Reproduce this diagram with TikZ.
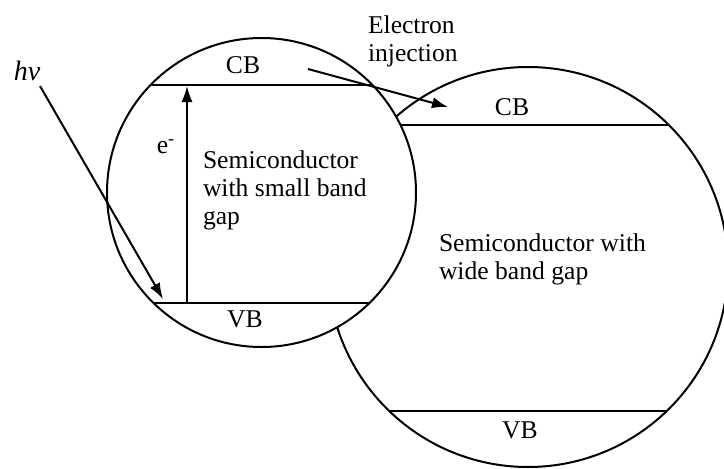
\documentclass[tikz,border=0pt]{standalone}
\usepackage{fontspec}
\setmainfont{Liberation Serif}
\usetikzlibrary{arrows.meta}
\begin{document}
\begin{tikzpicture}[x=0.5pt,y=-0.5pt, line width=1pt,
  lbl/.style={font=\fontsize{12.8}{14}\selectfont, inner sep=0pt},
  txt/.style={lbl, align=left, anchor=west},
  arr/.style={-{Latex[length=8pt,width=5.6pt]}, line width=1pt}]
\useasboundingbox (0,0) rectangle (724,468);
\coordinate (Lc) at (528,267);
\coordinate (Sc) at (261.5,192.5);
% large circle (wide band gap)
\draw (Lc) circle[radius=200];
\begin{scope}
  \clip (Lc) circle[radius=200];
  \draw (300,125) -- (740,125);
  \draw (300,411) -- (740,411);
\end{scope}
% small circle (small band gap), on top
\fill[white] (Sc) circle[radius=154.5];
\begin{scope}
  \clip (Sc) circle[radius=154.5];
  \draw (90,85) -- (430,85);
  \draw (90,303) -- (430,303);
\end{scope}
\draw (Sc) circle[radius=154.5];
% labels
\node[lbl] (cbS) at (243,65) {CB};
\node[lbl] (vbS) at (245,319) {VB};
\node[lbl] (cbL) at (512,107) {CB};
\node[lbl] (vbL) at (520,430) {VB};
\node[txt] (semS) at (202,190) {Semiconductor\\with small band\\gap};
\node[txt] (semL) at (438,259) {Semiconductor with\\wide band gap};
\node[txt] (inj) at (367,41) {Electron\\injection};
\node[lbl, font=\fontsize{14}{16}\selectfont\itshape] (hv) at (27,71) {hν};
\node[lbl] (el) at (166,147) {e\textsuperscript{-}};
% arrows
\coordinate (hvA) at (40,86);
\coordinate (hvB) at (163,299);
\coordinate (eA) at (187,303);
\coordinate (eB) at (187,86);
\coordinate (injA) at (308,69);
\coordinate (injB) at (448,107);
\draw[arr] (hvA) -- (hvB);
\draw[arr] (eA) -- (eB);
\draw[arr] (injA) -- (injB);
\end{tikzpicture}
\end{document}
